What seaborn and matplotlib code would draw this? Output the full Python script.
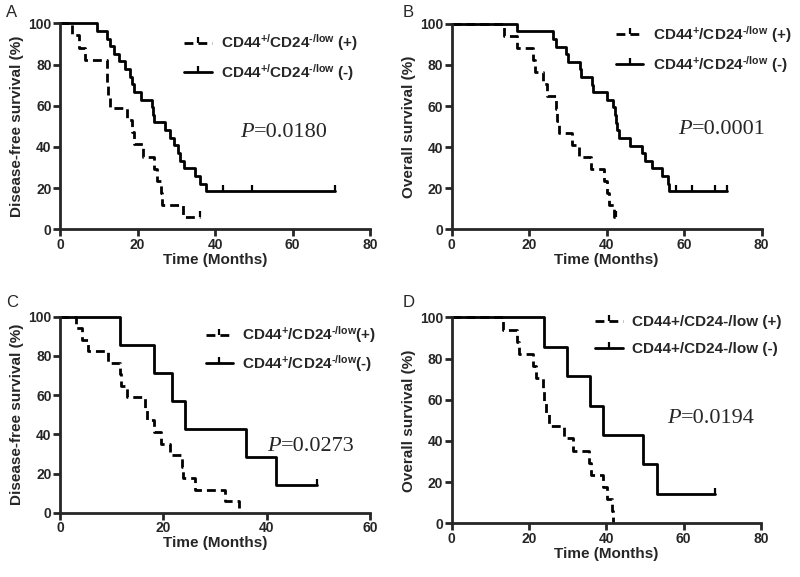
import matplotlib
matplotlib.use('Agg')
import matplotlib.pyplot as plt
from matplotlib.lines import Line2D
import seaborn as sns
import pandas as pd

# Kaplan-Meier step data (time in months, survival in %)
a_pos_t = [0, 3, 5, 6.5, 12, 12.2, 12.5, 13, 17.2, 18.5, 19, 21.5, 24.3, 25, 26, 26.4, 31.8, 36]
a_pos_s = [100, 94.1, 88.2, 82.4, 76.5, 70.6, 64.7, 58.8, 52.9, 47.1, 41.2, 35.3, 29.4, 23.5, 17.6, 11.8, 5.9, 5.9]
a_pos_cens = [36]
a_neg_t = [0, 9.5, 12.2, 13, 14, 15.3, 16.8, 18, 18.5, 19, 21, 23.7, 24, 24.2, 27.1, 28.4, 29.5,
           30.5, 31, 32, 34.8, 36.1, 37.8, 71]
a_neg_s = [100, 96.3, 92.6, 88.9, 85.2, 81.5, 77.8, 74.1, 70.4, 66.7, 63, 59.3, 55.6, 51.9, 48.1,
           44.4, 40.7, 37, 33.3, 29.6, 25.9, 22.2, 18.5, 18.5]
a_neg_cens = [42, 49.5, 71]

b_pos_t = [0, 13.5, 16.9, 20.9, 21.5, 23.5, 24.5, 26.9, 27.2, 27.6, 31, 32.9, 35.9, 39.3, 40, 40.6, 41.9, 42.4]
b_pos_s = [100, 94.1, 88.2, 82.4, 76.5, 70.6, 64.7, 58.8, 52.9, 47.1, 41.2, 35.3, 29.4, 23.5, 17.6, 11.8, 5.9, 5.9]
b_pos_cens = [42.4]
b_neg_t = [0, 16.9, 26.1, 26.8, 29.4, 30, 33.1, 33.5, 36.1, 36.5, 40, 41.7, 42.1, 42.4, 42.7, 43.1,
           46, 49.2, 49.8, 51.6, 54.2, 55.9, 56.2, 71]
b_neg_s = [100, 96.3, 92.6, 88.9, 85.2, 81.5, 77.8, 74.1, 70.4, 66.7, 63, 59.3, 55.6, 51.9, 48.1,
           44.4, 40.7, 37, 33.3, 29.6, 25.9, 22.2, 18.5, 18.5]
b_neg_cens = [58, 62, 68, 71]

c_pos_t = [0, 3.1, 4.2, 5.5, 9.2, 11.6, 11.9, 13, 16.5, 16.8, 18.1, 19.5, 21.3, 23.6, 23.9, 26.1, 31.9, 34.7]
c_pos_s = [100, 94.1, 88.2, 82.4, 76.5, 70.6, 64.7, 58.8, 52.9, 47.1, 41.2, 35.3, 29.4, 23.5, 17.6, 11.8, 5.9, 0]
c_pos_cens = []
c_neg_t = [0, 11.7, 18.2, 21.6, 24.2, 36, 41.9, 49.7]
c_neg_s = [100, 85.7, 71.4, 57.1, 42.9, 28.6, 14.3, 14.3]
c_neg_cens = [49.7]

d_pos_t = [0, 13.4, 17, 17.5, 21.1, 21.8, 23.5, 24, 24.5, 25.3, 29.1, 31.5, 35.6, 36, 39.2, 40.3, 41.4, 41.8]
d_pos_s = [100, 94.1, 88.2, 82.4, 76.5, 70.6, 64.7, 58.8, 52.9, 47.1, 41.2, 35.3, 29.4, 23.5, 17.6, 11.8, 5.9, 0]
d_pos_cens = []
d_neg_t = [0, 23.9, 29.9, 35.9, 39.1, 49.6, 53.2, 68.1]
d_neg_s = [100, 85.7, 71.4, 57.1, 42.9, 28.6, 14.3, 14.3]
d_neg_cens = [68.1]

letters = ['A', 'B', 'C', 'D']
ylabels = ['Disease-free survival (%)', 'Overall survival (%)',
           'Disease-free survival (%)', 'Overall survival (%)']
xmax = [80, 80, 60, 80]
pvals = ['=0.0180', '=0.0001', '=0.0273', '=0.0194']
legend_pos = [r'CD44$^{\text{+/}}$CD24$^{\text{-/low}}$ (+)', r'CD44$^{\text{+}}$/CD24$^{\text{-/low}}$ (+)',
              r'CD44$^{\text{+}}$/CD24$^{\text{-/low}}$(+)', 'CD44+/CD24-/low (+)']
legend_neg = [r'CD44$^{\text{+/}}$CD24$^{\text{-/low}}$ (-)', r'CD44$^{\text{+}}$/CD24$^{\text{-/low}}$ (-)',
              r'CD44$^{\text{+}}$/CD24$^{\text{-/low}}$(-)', 'CD44+/CD24-/low (-)']

sns.set_style('ticks')
plt.rcParams['font.family'] = ['Liberation Sans', 'DejaVu Sans']
plt.rcParams['mathtext.fontset'] = 'custom'
plt.rcParams['mathtext.rm'] = 'Liberation Sans:bold'
plt.rcParams['mathtext.default'] = 'rm'

fig = plt.figure(figsize=(8, 5.77), dpi=100)
boxes = [[0.075, 0.6026, 0.3875, 0.357],
         [0.5646, 0.6026, 0.3875, 0.356],
         [0.075, 0.1114, 0.3875, 0.3397],
         [0.5646, 0.0930, 0.3866, 0.357]]
curves = [
    (a_pos_t, a_pos_s, a_pos_cens, a_neg_t, a_neg_s, a_neg_cens),
    (b_pos_t, b_pos_s, b_pos_cens, b_neg_t, b_neg_s, b_neg_cens),
    (c_pos_t, c_pos_s, c_pos_cens, c_neg_t, c_neg_s, c_neg_cens),
    (d_pos_t, d_pos_s, d_pos_cens, d_neg_t, d_neg_s, d_neg_cens),
]
p_xy = [(46.5, 47), (58.4, 48.4), (40, 33.7), (55.6, 51)]
leg_anchor = [(0.40, 0.955), (0.53, 1.0), (0.47, 0.96), (0.465, 1.01)]
leg_spacing = [0.55, 0.6, 0.5, 0.85]
letter_xy = [(0.008, 0.978), (0.503, 0.978), (0.008, 0.475), (0.503, 0.475)]

dash = (0, (3.2, 1.8))
for i in range(4):
    ax = fig.add_axes(boxes[i])
    pt, ps, pc, nt, ns, nc = curves[i]
    df_pos = pd.DataFrame({'t': pt, 's': ps})
    df_neg = pd.DataFrame({'t': nt, 's': ns})
    sns.lineplot(data=df_pos, x='t', y='s', ax=ax, color='black', lw=2, estimator=None,
                 sort=False, drawstyle='steps-post', linestyle=dash, clip_on=False)
    sns.lineplot(data=df_neg, x='t', y='s', ax=ax, color='black', lw=2, estimator=None,
                 sort=False, drawstyle='steps-post', clip_on=False)
    # censoring ticks
    if pc:
        ax.plot(pc, [ps[-1]] * len(pc), ls='none', marker=2, ms=4, mew=1.6, color='black', clip_on=False)
    if nc:
        ax.plot(nc, [ns[-1]] * len(nc), ls='none', marker=2, ms=4, mew=1.6, color='black', clip_on=False)

    ax.set_xlim(0, xmax[i])
    ax.set_ylim(0, 100)
    ax.set_xticks(range(0, xmax[i] + 1, 20))
    ax.set_yticks(range(0, 101, 20))
    sns.despine(ax=ax)
    for sp in ['left', 'bottom']:
        ax.spines[sp].set_linewidth(2)
    ax.tick_params(length=5, width=2, labelsize=10, pad=1)
    for lab in ax.get_xticklabels() + ax.get_yticklabels():
        lab.set_fontweight('bold')
    ax.set_xlabel('Time (Months)', fontsize=11, fontweight='bold', labelpad=1)
    ax.set_ylabel(ylabels[i], fontsize=11, fontweight='bold', labelpad=3)

    px, py = p_xy[i]
    ax.text(px, py, 'P', fontsize=16, family='Liberation Serif', style='italic', va='center')
    ax.annotate(pvals[i], (px, py), xytext=(10, 0), textcoords='offset points',
                fontsize=16, family='Liberation Serif', va='center')

    handles = [Line2D([], [], color='black', lw=2, ls=dash, marker=2, ms=4, mew=1.6),
               Line2D([], [], color='black', lw=2, marker=2, ms=4, mew=1.6)]
    ax.legend(handles, [legend_pos[i], legend_neg[i]], loc='upper left',
              bbox_to_anchor=leg_anchor[i], frameon=False, borderaxespad=0, borderpad=0,
              handlelength=1.8, handletextpad=0.6, labelspacing=leg_spacing[i], numpoints=1,
              prop={'size': 11, 'weight': 'bold'})

    fig.text(letter_xy[i][0], letter_xy[i][1], letters[i], fontsize=12, va='center')

fig.savefig('out.png', dpi=100, facecolor='white')
